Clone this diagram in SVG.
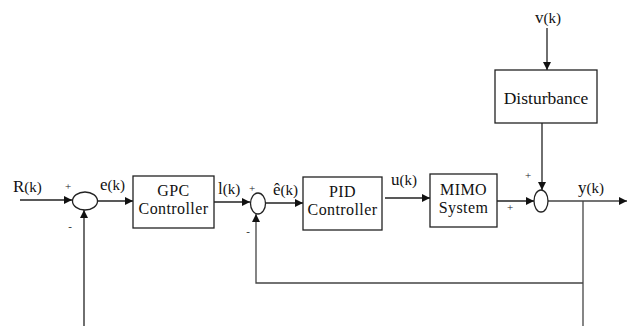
<svg xmlns="http://www.w3.org/2000/svg" width="628" height="326" viewBox="0 0 628 326">
<style>
.box{fill:#fff;stroke:#222;stroke-width:1.3}
.sum{fill:#fff;stroke:#222;stroke-width:1.3}
.ln{fill:none;stroke:#222;stroke-width:1.3}
.fb{fill:none;stroke:#444;stroke-width:1.3}
text{font-family:'Liberation Serif','Times New Roman','DejaVu Serif',serif;fill:#111}
.t{font-size:17px}
.tc{font-size:16px;letter-spacing:0.4px;text-anchor:middle}
.s{font-size:11px;fill:#222;text-anchor:middle}
.k{font-size:15px}
</style>
<defs>
<marker id="ah" viewBox="0 0 10 10" refX="10" refY="5" markerWidth="8" markerHeight="8" markerUnits="userSpaceOnUse" orient="auto">
<path d="M0,0 L10,5 L0,10 Z" fill="#111"/>
</marker>
</defs>
<g id="connectors">
<line class="ln" x1="20" y1="200" x2="72" y2="200" marker-end="url(#ah)"/>
<line class="ln" x1="97" y1="201" x2="133" y2="201" marker-end="url(#ah)"/>
<line class="ln" x1="214" y1="202" x2="250" y2="202" marker-end="url(#ah)"/>
<line class="ln" x1="265" y1="203" x2="303" y2="203" marker-end="url(#ah)"/>
<line class="ln" x1="385" y1="198" x2="430" y2="198" marker-end="url(#ah)"/>
<line class="ln" x1="497" y1="201" x2="534" y2="201" marker-end="url(#ah)"/>
<line class="ln" x1="547" y1="28" x2="547" y2="70" marker-end="url(#ah)"/>
<line class="ln" x1="542" y1="123" x2="542" y2="190" marker-end="url(#ah)"/>
<line class="fb" x1="548" y1="201" x2="627" y2="201" marker-end="url(#ah)"/>
<polyline class="fb" points="583,201 583,326"/>
<polyline class="fb" points="583,283 256,283 256,214" marker-end="url(#ah)"/>
<line class="ln" x1="84" y1="326" x2="84" y2="210" marker-end="url(#ah)"/>
</g>
<g id="sum1"><ellipse class="sum" cx="85" cy="201" rx="12.5" ry="9"/><text class="s" x="68" y="190">+</text><text class="s" x="70" y="230">-</text></g>
<g id="sum2"><ellipse class="sum" cx="258" cy="203.5" rx="7.5" ry="10.5"/><text class="s" x="252" y="192">+</text><text class="s" x="248" y="235">-</text></g>
<g id="sum3"><ellipse class="sum" cx="541" cy="201" rx="7" ry="11"/><text class="s" x="528" y="179">+</text><text class="s" x="510" y="211">+</text></g>
<g id="gpc"><rect class="box" x="133" y="176" width="81" height="52"/><text class="tc" x="173.5" y="196">GPC<tspan x="173.5" dy="17.8">Controller</tspan></text></g>
<g id="pid"><rect class="box" x="303" y="177" width="79" height="53"/><text class="tc" x="342.5" y="197">PID<tspan x="342.5" dy="17.8">Controller</tspan></text></g>
<g id="mimo"><rect class="box" x="430" y="174" width="67" height="53"/><text class="tc" x="463.5" y="195">MIMO<tspan x="463.5" dy="17.8">System</tspan></text></g>
<g id="disturbance"><rect class="box" x="495" y="70" width="102" height="53"/><text class="tc" x="546" y="104" style="font-size:17.5px;letter-spacing:0">Disturbance</text></g>
<g id="labels">
<text class="t" x="13" y="192">R<tspan class="k">(k)</tspan></text>
<text class="t" x="100" y="190">e<tspan class="k">(k)</tspan></text>
<text class="t" x="218" y="194">l<tspan class="k">(k)</tspan></text>
<text class="t" x="273" y="195">ê<tspan class="k">(k)</tspan></text>
<text class="t" x="391" y="185">u<tspan class="k">(k)</tspan></text>
<text class="t" x="578" y="193">y<tspan class="k">(k)</tspan></text>
<text class="t" x="535" y="23">v<tspan class="k">(k)</tspan></text>
</g>
</svg>
